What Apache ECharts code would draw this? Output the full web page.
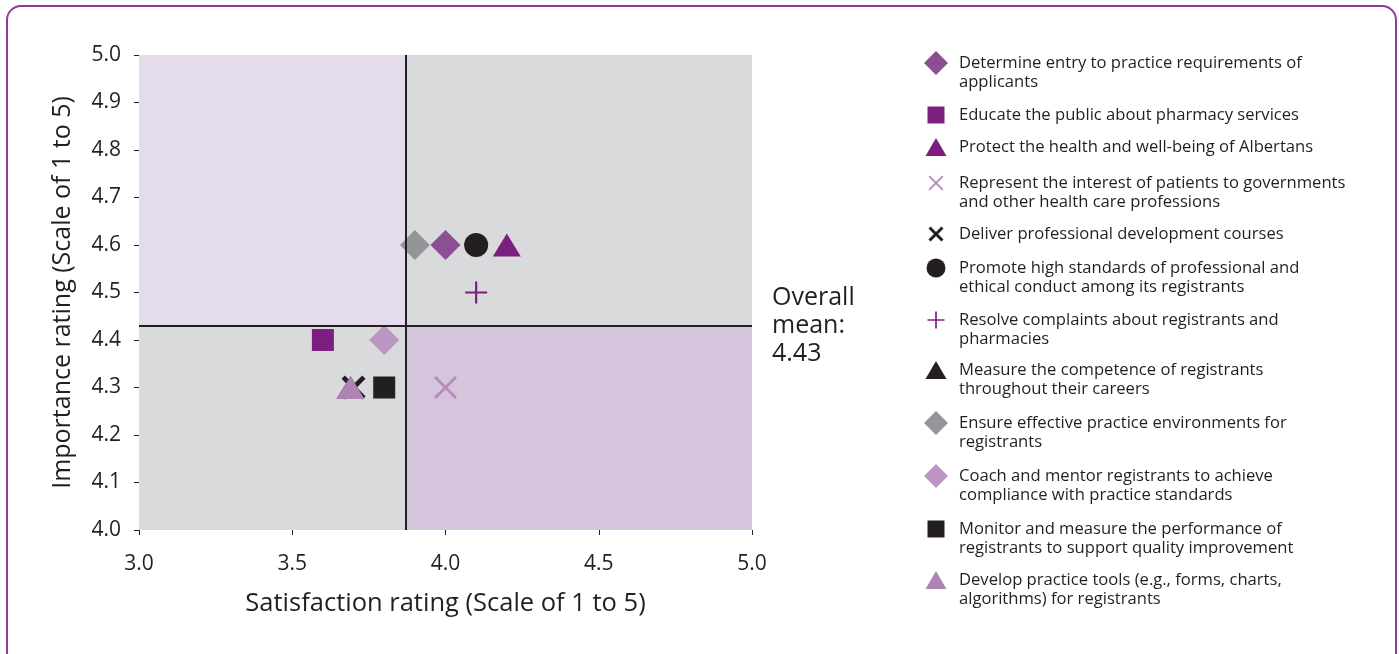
<!DOCTYPE html>
<html>
<head>
<meta charset="utf-8">
<title>Importance vs satisfaction</title>
<script src="https://cdn.jsdelivr.net/npm/echarts@6/dist/echarts.min.js"></script>
<style>
  html, body { margin: 0; padding: 0; background: #fff; }
  #chart { width: 1399px; height: 654px; }
</style>
</head>
<body>
<div id="chart"></div>
<script>
// data
var activities = [
  "Determine entry to practice requirements of\napplicants",
  "Educate the public about pharmacy services",
  "Protect the health and well-being of Albertans",
  "Represent the interest of patients to governments\nand other health care professions",
  "Deliver professional development courses",
  "Promote high standards of professional and\nethical conduct among its registrants",
  "Resolve complaints about registrants and\npharmacies",
  "Measure the competence of registrants\nthroughout their careers",
  "Ensure effective practice environments for\nregistrants",
  "Coach and mentor registrants to achieve\ncompliance with practice standards",
  "Monitor and measure the performance of\nregistrants to support quality improvement",
  "Develop practice tools (e.g., forms, charts,\nalgorithms) for registrants"
];
var satisfaction = [4.0, 3.6, 4.2, 4.0, 3.7, 4.1, 4.1, 3.69, 3.9, 3.8, 3.8, 3.69];
var importance   = [4.6, 4.4, 4.6, 4.3, 4.3, 4.6, 4.5, 4.3, 4.6, 4.4, 4.3, 4.3];
var meanSatisfaction = 3.87;
var meanImportance = 4.43;
var xTicks = [3.0, 3.5, 4.0, 4.5, 5.0];
var yTicks = [4.0, 4.1, 4.2, 4.3, 4.4, 4.5, 4.6, 4.7, 4.8, 4.9, 5.0];

// marker shapes
function crossPath(d) {
  return "path://M0," + d + " L" + d + ",0 L50," + (50 - d) + " L" + (100 - d) + ",0 L100," + d +
    " L" + (50 + d) + ",50 L100," + (100 - d) + " L" + (100 - d) + ",100 L50," + (50 + d) +
    " L" + d + ",100 L0," + (100 - d) + " L" + (50 - d) + ",50 Z";
}
var plusPath = "path://M45,0 L55,0 L55,45 L100,45 L100,55 L55,55 L55,100 L45,100 L45,55 L0,55 L0,45 L45,45 Z";

var markers = [
  { symbol: "diamond", size: 30, color: "#8c4f94", icon: [24, 24], cy: 63 },
  { symbol: "rect", size: 22, color: "#7d1f80", icon: [17, 17], cy: 115 },
  { symbol: "triangle", size: [28, 23], color: "#7d1f80", icon: [21, 18], cy: 147 },
  { symbol: crossPath(9), size: 23, color: "#b78cbb", icon: [15, 15], cy: 183 },
  { symbol: crossPath(14), size: 24, color: "#231f20", icon: [15, 15], cy: 234 },
  { symbol: "circle", size: 24, color: "#231f20", icon: [19, 19], cy: 268 },
  { symbol: plusPath, size: 22, color: "#7d1f80", icon: [17, 17], cy: 320 },
  { symbol: "triangle", size: [28, 23], color: "#231f20", icon: [21, 18], cy: 370 },
  { symbol: "diamond", size: 30, color: "#939598", icon: [24, 24], cy: 423 },
  { symbol: "diamond", size: 30, color: "#bb96c2", icon: [24, 24], cy: 476 },
  { symbol: "rect", size: 22, color: "#231f20", icon: [17, 17], cy: 529 },
  { symbol: "triangle", size: [28, 23], color: "#ae84b5", icon: [21, 18], cy: 580 }
];

var font = "Open Sans";
var ink = "#231f20";
var legendLine = 19;
var chart = echarts.init(document.getElementById("chart"));

var series = [{
  // background quadrants and mean lines
  type: "scatter",
  data: [],
  z: 1,
  silent: true,
  markArea: {
    silent: true,
    data: [
      [{ xAxis: xTicks[0], yAxis: meanImportance, itemStyle: { color: "#e4dcec" } }, { xAxis: meanSatisfaction, yAxis: yTicks[yTicks.length - 1] }],
      [{ xAxis: meanSatisfaction, yAxis: meanImportance, itemStyle: { color: "#d9dadc" } }, { xAxis: xTicks[xTicks.length - 1], yAxis: yTicks[yTicks.length - 1] }],
      [{ xAxis: xTicks[0], yAxis: yTicks[0], itemStyle: { color: "#d9dadc" } }, { xAxis: meanSatisfaction, yAxis: meanImportance }],
      [{ xAxis: meanSatisfaction, yAxis: yTicks[0], itemStyle: { color: "#d6c3dc" } }, { xAxis: xTicks[xTicks.length - 1], yAxis: meanImportance }]
    ]
  },
  markLine: {
    silent: true,
    symbol: "none",
    lineStyle: { color: ink, width: 2, type: "solid" },
    data: [
      { xAxis: meanSatisfaction, label: { show: false } },
      {
        yAxis: meanImportance,
        label: {
          show: true,
          position: "end",
          distance: 20,
          formatter: "Overall\nmean:\n" + meanImportance.toFixed(2),
          fontFamily: font,
          fontSize: 25,
          lineHeight: 28,
          color: ink
        }
      }
    ]
  }
}];

var legends = [];
activities.forEach(function (name, i) {
  var m = markers[i];
  series.push({
    name: name,
    type: "scatter",
    z: 2,
    symbol: m.symbol,
    symbolSize: m.size,
    itemStyle: { color: m.color, opacity: 1 },
    data: [[satisfaction[i], importance[i]]]
  });
  // two-line names get a blank first line so the text's first line sits level with the icon
  var twoLine = name.indexOf("\n") >= 0;
  var textH = (twoLine ? 3 : 1) * legendLine;
  legends.push({
    data: [name],
    orient: "vertical",
    left: 936 - m.icon[0] / 2,
    top: m.cy - Math.max(m.icon[1] / 2, textH / 2),
    padding: 0,
    itemWidth: m.icon[0],
    itemHeight: m.icon[1],
    selectedMode: false,
    formatter: function (n) { return twoLine ? " \n" + n : n; },
    textStyle: {
      fontFamily: font,
      fontSize: 16.6,
      lineHeight: legendLine,
      color: ink,
      padding: [0, 0, 0, 18 - m.icon[0] / 2]
    }
  });
});

var option = {
  animation: false,
  backgroundColor: "#fff",
  graphic: [{
    type: "rect",
    silent: true,
    z: -10,
    shape: { x: 7, y: 6, width: 1389, height: 700, r: 14 },
    style: { fill: "none", stroke: "#8e3b98", lineWidth: 2 }
  }],
  grid: { left: 139, right: 647, top: 55, bottom: 124 },
  legend: legends,
  xAxis: {
    type: "value",
    min: xTicks[0],
    max: xTicks[xTicks.length - 1],
    interval: 0.5,
    name: "Satisfaction rating (Scale of 1 to 5)",
    nameLocation: "middle",
    nameGap: 61,
    nameTextStyle: { fontFamily: font, fontSize: 25.5, color: ink },
    axisLine: { show: false },
    axisTick: { show: true, length: 5, lineStyle: { color: ink } },
    splitLine: { show: false },
    axisLabel: {
      margin: 24,
      fontFamily: font,
      fontSize: 21,
      color: ink,
      formatter: function (v) { return v.toFixed(1); }
    }
  },
  yAxis: {
    type: "value",
    min: yTicks[0],
    max: yTicks[yTicks.length - 1],
    interval: 0.1,
    name: "Importance rating (Scale of 1 to 5)",
    nameLocation: "middle",
    nameGap: 64,
    nameTextStyle: { fontFamily: font, fontSize: 25, color: ink },
    axisLine: { show: false },
    axisTick: { show: true, length: 5, lineStyle: { color: ink } },
    splitLine: { show: false },
    axisLabel: {
      margin: 18,
      fontFamily: font,
      fontSize: 21,
      color: ink,
      formatter: function (v) { return v.toFixed(1); }
    }
  },
  series: series
};

chart.setOption(option);
</script>
</body>
</html>
